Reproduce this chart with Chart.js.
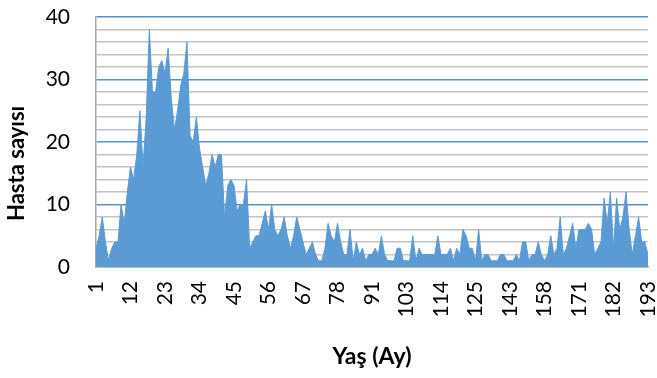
<!DOCTYPE html>
<html>
<head>
<meta charset="utf-8">
<script src="https://cdn.jsdelivr.net/npm/chart.js@4/dist/chart.umd.min.js"></script>
<style>
  html, body { margin: 0; padding: 0; background: #fff; }
</style>
</head>
<body>
<canvas id="chart" width="657" height="378"></canvas>
<script>
// Age categories (months) as they appear on the category axis
const ageMonths = [
  1, 2, 3, 4, 5, 6, 7, 8, 9, 10, 11, 12, 13, 14, 15, 16, 17, 18, 19, 20,
  21, 22, 23, 24, 25, 26, 27, 28, 29, 30, 31, 32, 33, 34, 35, 36, 37, 38, 39, 40,
  41, 42, 43, 44, 45, 46, 47, 48, 49, 50, 51, 52, 53, 54, 55, 56, 57, 58, 59, 60,
  61, 62, 63, 64, 65, 66, 67, 68, 69, 70, 71, 72, 73, 74, 75, 76, 77, 78,
  79, 80, 81, 82, 83, 84, 85, 86, 88, 90, 91,
  92, 93, 94, 95, 96, 97, 98, 99, 100, 101, 103,
  104, 105, 106, 107, 108, 109, 110, 111, 112, 113, 114,
  115, 116, 117, 118, 119, 120, 121, 122, 123, 124, 125,
  126, 127, 128, 130, 132, 134, 136, 138, 140, 141, 143,
  144, 145, 147, 148, 150, 151, 153, 154, 156, 157, 158,
  159, 160, 161, 162, 163, 164, 165, 166, 168, 170, 171,
  172, 173, 174, 175, 176, 177, 178, 179, 180, 181, 182,
  183, 184, 185, 186, 187, 188, 189, 190, 191, 192, 193
];

// Number of patients per age category
const patientCounts = [
  3, 5, 8, 4, 1, 3, 4, 4, 10, 7, 12, 16, 14, 18, 25, 16, 24, 38, 28, 28,
  32, 33, 31, 35, 27, 22, 25, 29, 31, 36, 21, 20, 24, 19, 16, 13, 15, 18, 16, 18,
  18, 8, 13, 14, 13, 9, 10, 10, 14, 3, 4, 5, 5, 7, 9, 6, 10, 6, 5, 6,
  8, 5, 3, 5, 8, 6, 4, 2, 3, 4, 2, 1, 1, 3, 7, 5, 4, 7, 4, 2,
  2, 6, 1, 4, 2, 3, 1, 2, 2, 3, 2, 5, 2, 1, 1, 1, 3, 3, 1, 1,
  1, 5, 1, 3, 2, 2, 2, 2, 2, 5, 2, 2, 2, 3, 1, 3, 2, 6, 5, 3,
  3, 1, 6, 1, 2, 2, 1, 1, 1, 2, 2, 1, 1, 1, 2, 1, 4, 4, 1, 2,
  2, 4, 2, 1, 2, 5, 2, 3, 8, 2, 3, 5, 7, 3, 6, 6, 6, 7, 6, 2,
  3, 4, 11, 7, 12, 3, 11, 6, 8, 12, 6, 2, 5, 8, 4, 4, 2
];

const yMin = 0;
const yMax = 40;
const yStep = 2;
const yLabelEvery = 10;
const xLabelEvery = 11;

const fillColor = '#5b9bd5';
const majorGridColor = '#5a8fd6';
const minorGridColor = '#c3c3c3';
const axisColor = '#a6a6a6';
const fontFamily = 'Lato, "Open Sans", sans-serif';

const ctx = document.getElementById('chart').getContext('2d');

new Chart(ctx, {
  type: 'line',
  data: {
    labels: ageMonths,
    datasets: [{
      data: patientCounts,
      fill: 'origin',
      backgroundColor: fillColor,
      borderColor: fillColor,
      borderWidth: 1,
      pointRadius: 0,
      tension: 0,
    }],
  },
  options: {
    responsive: false,
    animation: false,
    layout: { padding: { top: 17, right: 9, bottom: 0, left: 0 } },
    plugins: {
      legend: { display: false },
      tooltip: { enabled: false },
    },
    scales: {
      x: {
        offset: false,
        grid: { color: 'rgba(0,0,0,0)', drawTicks: true, tickLength: 14 },
        border: { color: axisColor, width: 1.5 },
        ticks: {
          autoSkip: false,
          minRotation: 90,
          maxRotation: 90,
          padding: 0,
          color: '#000',
          font: { family: fontFamily, size: 21, lineHeight: 1 },
          callback: (value, index) =>
            index % xLabelEvery === 0 ? ageMonths[index] : '',
        },
        title: {
          display: true,
          text: 'Yaş (Ay)',
          color: '#000',
          font: { family: fontFamily, size: 23, weight: 'bold' },
          padding: { top: 0, bottom: 8 },
        },
        afterFit: (scale) => {
          scale.height = 111;
          scale.paddingLeft = 0;
          scale.paddingRight = 0;
        },
      },
      y: {
        min: yMin,
        max: yMax,
        grid: {
          color: (c) =>
            c.tick.value === 0
              ? axisColor
              : c.tick.value % yLabelEvery === 0
                ? majorGridColor
                : minorGridColor,
          lineWidth: 1.5,
          drawTicks: false,
        },
        border: { color: axisColor, width: 1.5 },
        ticks: {
          autoSkip: false,
          stepSize: yStep,
          padding: 26,
          color: '#000',
          font: { family: fontFamily, size: 21 },
          callback: (value) => (value % yLabelEvery === 0 ? value : ''),
        },
        title: {
          display: true,
          text: 'Hasta sayısı\u00a0\u00a0\u00a0\u00a0\u00a0\u00a0\u00a0\u00a0',
          color: '#000',
          font: { family: fontFamily, size: 22, weight: 'bold' },
          padding: { top: 4, bottom: 0 },
        },
        afterFit: (scale) => {
          scale.width = 96;
          scale.paddingTop = 0;
          scale.paddingBottom = 0;
        },
      },
    },
  },
});
</script>
</body>
</html>
